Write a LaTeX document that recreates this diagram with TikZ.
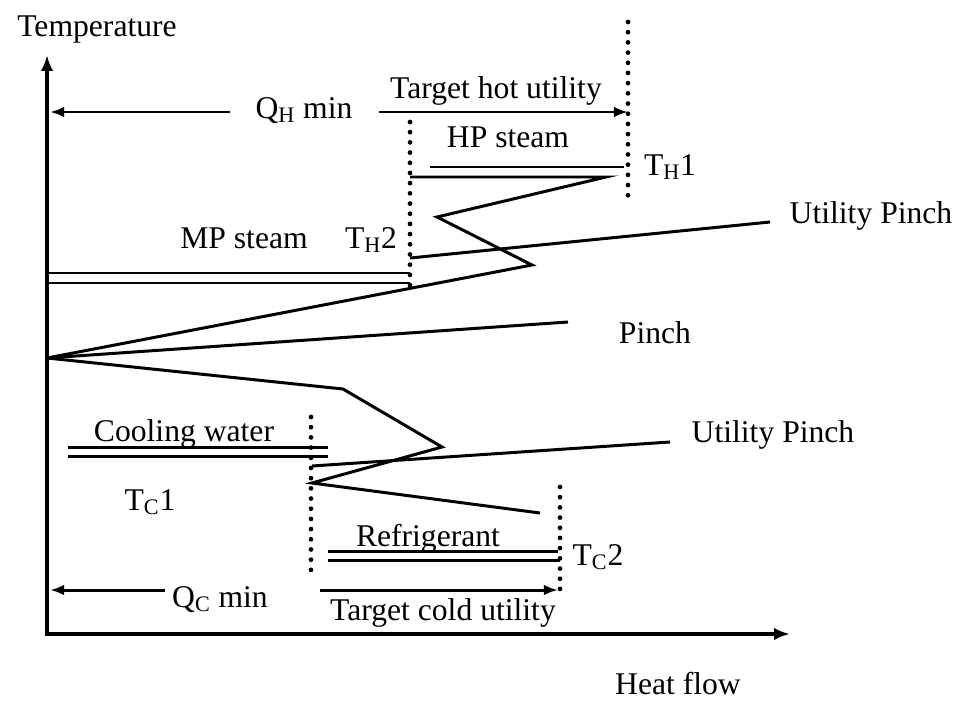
\documentclass[tikz,border=0pt]{standalone}
\usepackage{fontspec}
\setmainfont{Liberation Serif}
\usepackage{tikz}
\usetikzlibrary{arrows.meta, positioning, calc}

\tikzset{
	curve/.style={line width=1.7pt, line join=miter},
	axisline/.style={line width=2.2pt, line join=miter, {Latex[length=9pt,width=7pt]}-{Latex[length=9pt,width=7pt]}},
	qarrow/.style={line width=1.7pt, -{Latex[length=8pt,width=6pt]}},
	dotline/.style={line width=2.7pt, line cap=round, dash pattern=on 0pt off 5.8pt},
	lbl/.style={font=\fontsize{18}{21}\selectfont, inner sep=0pt, anchor=base},
}

\begin{document}
\begin{tikzpicture}[x=0.02cm, y=-0.02cm]
	\useasboundingbox (0,0) rectangle (960,700);
	\pgfmathsetmacro{\axisx}{47}
	\pgfmathsetmacro{\axisy}{634}
	\pgfmathsetmacro{\qhx}{628}
	\pgfmathsetmacro{\mpx}{410}
	\pgfmathsetmacro{\cwx}{311}
	\pgfmathsetmacro{\refx}{560}
	
	% axes
	\coordinate (origin) at (\axisx,\axisy);
	\coordinate (ytip) at (\axisx,55);
	\coordinate (xtip) at (790,\axisy);
	\draw[axisline] (ytip) -- (origin) -- (xtip);
	\node[lbl] (temp) at (97,36) {Temperature};
	\node[lbl] (heat) at (678,694) {Heat flow};
	
	% target lines
	\coordinate (hot1top) at (\qhx,22);
	\coordinate (hot1bot) at (\qhx,205);
	\coordinate (hot2top) at (\mpx,122);
	\coordinate (hot2bot) at (\mpx,293);
	\coordinate (cold1top) at (\cwx,417);
	\coordinate (cold1bot) at (\cwx,577);
	\coordinate (cold2top) at (\refx,487);
	\coordinate (cold2bot) at (\refx,598);
	\draw[dotline] (hot1top) -- (hot1bot);
	\draw[dotline] (hot2top) -- (hot2bot);
	\draw[dotline] (cold1top) -- (cold1bot);
	\draw[dotline] (cold2top) -- (cold2bot);
	
	% Q_H min and target hot utility
	\node[lbl] (qh) at (304,118) {Q\textsubscript{H} min};
	\coordinate (qhl) at (\axisx+3,112);
	\coordinate (qhr) at (\qhx,112);
	\draw[qarrow] (230,112) -- (qhl);
	\draw[qarrow] (379,112) -- (qhr);
	\node[lbl] (thu) at (496,98) {Target hot utility};
	
	% Q_C min and target cold utility
	\node[lbl] (qc) at (220,607) {Q\textsubscript{C} min};
	\coordinate (qcl) at (\axisx+3,590);
	\coordinate (qcr) at (\refx-2,590);
	\draw[qarrow] (165,590) -- (qcl);
	\draw[qarrow] (320,590) -- (qcr);
	\node[lbl] (tcu) at (443,620) {Target cold utility};
	
	% hot utilities
	\node[lbl] (hp) at (508,147) {HP steam};
	\node[lbl] (th1) at (670,175) {T\textsubscript{H}1};
	\draw[curve] (430,167) -- (624,167);
	\node[lbl] (mp) at (244,248) {MP steam};
	\node[lbl] (th2) at (371,248) {T\textsubscript{H}2};
	\draw[curve] (\axisx,273) -- (\mpx,273);
	\draw[curve] (\axisx,283) -- (\mpx,283);
	
	% grand composite curve
	\coordinate (pinch) at (\axisx,358);
	\draw[curve] (\mpx,177) -- (606,177) -- (437,217) -- (532,265) -- (pinch);
	\draw[curve] (pinch) -- (343,389) -- (442,447) -- (312,483) -- (540,513);
	
	% pinch lines
	\coordinate (uptop) at (770,222);
	\coordinate (pinchend) at (568,322);
	\coordinate (uplow) at (670,442);
	\draw[curve] (\mpx,258) -- (uptop);
	\draw[curve] (pinch) -- (pinchend);
	\draw[curve] (312,466) -- (uplow);
	\node[lbl] (up1) at (871,223) {Utility Pinch};
	\node[lbl] (pin) at (655,343) {Pinch};
	\node[lbl] (up2) at (773,442) {Utility Pinch};
	
	% cold utilities
	\node[lbl] (cw) at (184,441) {Cooling water};
	\draw[curve] (68,447) -- (328,447);
	\draw[curve] (68,456) -- (328,456);
	\node[lbl] (tc1) at (150,510) {T\textsubscript{C}1};
	\node[lbl] (ref) at (428,546) {Refrigerant};
	\draw[curve] (328,551) -- (558,551);
	\draw[curve] (328,560) -- (\refx,560);
	\node[lbl] (tc2) at (598,565) {T\textsubscript{C}2};
\end{tikzpicture}
\end{document}
